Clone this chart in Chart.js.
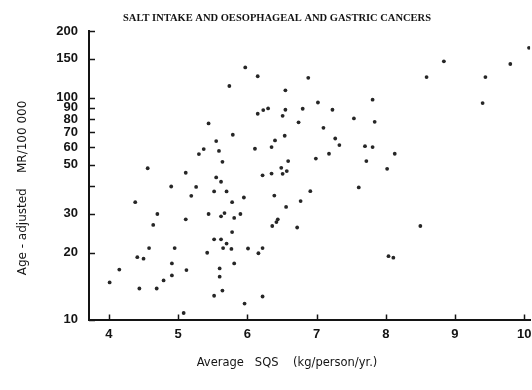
<!DOCTYPE html>
<html>
<head>
<meta charset="utf-8">
<title>Salt intake and oesophageal and gastric cancers</title>
<script src="https://cdn.jsdelivr.net/npm/chart.js@4.4.1/dist/chart.umd.min.js"></script>
<style>
  html, body { margin: 0; padding: 0; background: #fff; }
  #wrap { width: 532px; height: 390px; }
</style>
</head>
<body>
<div id="wrap"><canvas id="scatter" width="532" height="390"></canvas></div>
<script>
// Average SQS (kg/person/yr.) for each population
const sqs = [
    5.97, 6.15, 5.74, 6.55, 6.23, 6.30, 6.15, 6.55, 6.51, 6.74,
    5.44, 6.54, 5.79, 5.55, 6.40, 6.11, 6.35, 5.37, 5.59, 5.30,
    5.64, 6.59, 4.56, 6.49, 6.57, 5.11, 6.22, 6.35, 6.51, 5.55,
    5.62, 4.90, 5.26, 5.52, 5.70, 5.19, 5.95, 6.39, 4.38, 5.78,
    6.56, 4.70, 5.44, 5.90, 5.67, 5.62, 5.11, 5.81, 6.44, 6.42,
    4.64, 6.36, 6.72, 5.78, 5.52, 5.62, 5.70, 4.58, 4.95, 5.65,
    5.77, 6.01, 6.22, 5.42, 6.16, 4.41, 4.50, 4.91, 5.81, 4.15,
    5.12, 5.60, 4.91, 5.60, 4.79, 4.01, 4.44, 4.69, 5.64, 5.52,
    6.22, 5.96, 5.08,
    10.07, 8.84, 9.80, 6.88, 8.59, 9.44, 7.81, 9.40, 7.02, 6.80,
    7.23, 7.54, 7.84, 7.10, 7.27, 7.33, 7.70, 7.81, 7.18, 8.13,
    6.99, 7.72, 8.02, 7.61, 6.91, 6.77, 8.50, 8.04, 8.11
];

// Age-adjusted mortality rate per 100 000
const mortality = [
    137, 125, 113, 108, 88, 89.5, 84.7, 88.3, 82.9, 77.5,
    76.6, 67.4, 68.1, 63.8, 64.2, 58.9, 59.9, 58.7, 57.6, 55.7,
    51.4, 51.8, 48.1, 48.3, 46.7, 45.9, 44.7, 45.5, 45.4, 43.7,
    41.8, 39.8, 39.6, 37.8, 37.8, 36.1, 35.5, 36.2, 33.8, 33.8,
    32.2, 29.9, 29.9, 29.9, 30.2, 29.2, 28.3, 28.7, 28.3, 27.5,
    26.7, 26.4, 26.0, 24.8, 23.0, 23.0, 22.0, 21.0, 21.0, 21.0,
    20.8, 20.9, 21.0, 20.0, 19.9, 19.1, 18.8, 17.9, 17.9, 16.8,
    16.7, 17.0, 15.8, 15.6, 15.0, 14.7, 13.8, 13.8, 13.5, 12.8,
    12.7, 11.8, 10.7,
    168, 146, 142, 123, 124, 124, 98, 94.6, 95.2, 89.2,
    88.3, 80.7, 77.9, 73.2, 65.5, 61.2, 60.5, 59.9, 55.9, 55.9,
    53.2, 51.8, 47.8, 39.4, 37.9, 34.2, 26.4, 19.3, 19.0
];

const xTicks = [4, 5, 6, 7, 8, 9, 10];
const yTicks = [10, 20, 30, 40, 50, 60, 70, 80, 90, 100, 150, 200];
const yTickLabels = ["10", "20", "30", "", "50", "60", "70", "80", "90", "100", "150", "200"];

const chartTitle = "SALT INTAKE AND OESOPHAGEAL AND GASTRIC CANCERS";
const xTitle = "Average   SQS    (kg/person/yr.)";
const yTitle = "Age - adjusted    MR/100 000";

const ink = "#141414";

// inner tick marks plus the title and axis captions
const extras = {
    id: "extras",
    afterDraw(chart) {
        const ctx = chart.ctx;
        const xs = chart.scales.x;
        const ys = chart.scales.y;
        ctx.save();
        ctx.strokeStyle = ink;
        ctx.lineWidth = 1.5;
        ys.ticks.forEach(t => {
            const py = Math.round(ys.getPixelForValue(t.value)) + 0.5;
            ctx.beginPath();
            ctx.moveTo(xs.left, py);
            ctx.lineTo(xs.left + 6, py);
            ctx.stroke();
        });
        xs.ticks.forEach(t => {
            const px = Math.round(xs.getPixelForValue(t.value)) + 0.5;
            ctx.beginPath();
            ctx.moveTo(px, ys.bottom);
            ctx.lineTo(px, ys.bottom - 5);
            ctx.stroke();
        });

        ctx.fillStyle = ink;
        ctx.textAlign = "center";
        ctx.textBaseline = "middle";
        ctx.font = "bold 10.5px 'Liberation Serif'";
        ctx.fillText(chartTitle, 277, 18);

        ctx.font = "11.5px 'DejaVu Sans'";
        ctx.fillText(xTitle, 287, 363);

        ctx.translate(23, 188);
        ctx.rotate(-Math.PI / 2);
        ctx.font = "12px 'DejaVu Sans'";
        ctx.fillText(yTitle, 0, 0);
        ctx.restore();
    }
};

new Chart(document.getElementById("scatter"), {
    type: "scatter",
    data: {
        datasets: [{
            data: sqs.map((v, i) => ({ x: v, y: mortality[i] })),
            backgroundColor: "#262626",
            borderWidth: 0,
            pointRadius: 1.9,
            pointHoverRadius: 1.9
        }]
    },
    options: {
        responsive: false,
        animation: false,
        layout: { padding: { top: 31, right: 0, bottom: 0, left: 0 } },
        plugins: {
            legend: { display: false },
            tooltip: { enabled: false }
        },
        scales: {
            x: {
                type: "linear",
                min: 3.712,
                max: 10.086,
                afterBuildTicks: s => { s.ticks = xTicks.map(v => ({ value: v })); },
                afterFit: s => { s.height = 70.5; s.paddingLeft = 0; s.paddingRight = 0; },
                ticks: {
                    color: ink,
                    padding: 7,
                    autoSkip: false,
                    maxRotation: 0,
                    font: { family: "Liberation Sans", size: 13, weight: "bold" }
                },
                grid: { drawOnChartArea: false, drawTicks: false },
                border: { color: ink, width: 2 }
            },
            y: {
                type: "logarithmic",
                min: 10,
                max: 200,
                afterBuildTicks: s => { s.ticks = yTicks.map(v => ({ value: v })); },
                afterFit: s => { s.width = 89; s.paddingTop = 0; s.paddingBottom = 0; },
                ticks: {
                    color: ink,
                    padding: 11,
                    autoSkip: false,
                    font: { family: "Liberation Sans", size: 13, weight: "bold" },
                    callback: (v, i) => yTickLabels[i]
                },
                grid: { drawOnChartArea: false, drawTicks: false },
                border: { color: ink, width: 2 }
            }
        }
    },
    plugins: [extras]
});
</script>
</body>
</html>
